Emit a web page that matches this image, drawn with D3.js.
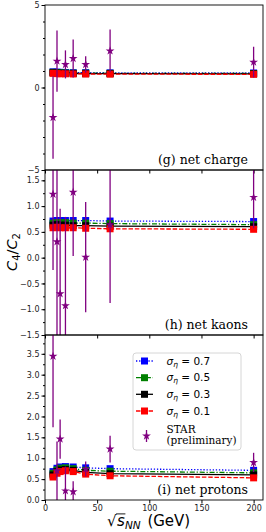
<!DOCTYPE html>
<html>
<head>
<meta charset="utf-8">
<script src="https://cdn.jsdelivr.net/npm/d3@7"></script>
<style>
  body { margin: 0; background: #fff; }
  svg { display: block; }
</style>
</head>
<body>
<div class="canvas"></div>
<script>
// collision energies (GeV)
const energies = [7.7, 11.5, 14.5, 19.6, 27, 39, 62.4, 200];
const sigmaLabels = ['0.7', '0.5', '0.3', '0.1'];

// model C4/C2, net charge
const chargeS07 = [0.95, 0.93, 0.92, 0.91, 0.90, 0.90, 0.89, 0.88];
const chargeS05 = [0.92, 0.90, 0.89, 0.88, 0.87, 0.87, 0.86, 0.85];
const chargeS03 = [0.89, 0.87, 0.86, 0.85, 0.85, 0.84, 0.84, 0.83];
const chargeS01 = [0.86, 0.84, 0.83, 0.83, 0.82, 0.82, 0.81, 0.80];
// STAR preliminary, net charge (no 14.5 point)
const starCharge    = [-1.82, 1.60, null, 1.40, 1.76, 1.40, 2.22, 1.54];
const starChargeErr = [2.50, 1.85, null, 0.85, 1.15, 0.50, 1.30, 0.93];

// model C4/C2, net kaons
const kaonS07 = [0.71, 0.72, 0.72, 0.72, 0.72, 0.72, 0.71, 0.70];
const kaonS05 = [0.67, 0.68, 0.68, 0.68, 0.67, 0.67, 0.66, 0.64];
const kaonS03 = [0.63, 0.64, 0.63, 0.63, 0.62, 0.62, 0.61, 0.60];
const kaonS01 = [0.58, 0.59, 0.58, 0.58, 0.58, 0.57, 0.56, 0.55];
const starKaon    = [1.23, 0.31, -0.70, -0.93, 1.27, 0.01, 0.64, 1.17];
const starKaonErr = [1.47, 2.20, 1.65, 1.72, 1.24, 1.07, 1.52, 0.60];

// model C4/C2, net protons
const protonS07 = [0.68, 0.76, 0.79, 0.80, 0.79, 0.77, 0.75, 0.71];
const protonS05 = [0.64, 0.72, 0.76, 0.77, 0.75, 0.71, 0.69, 0.65];
const protonS03 = [0.60, 0.68, 0.72, 0.73, 0.71, 0.66, 0.63, 0.60];
const protonS01 = [0.55, 0.64, 0.68, 0.70, 0.68, 0.62, 0.58, 0.53];
const starProton    = [3.44, 0.70, 1.46, 0.22, 0.20, 0.74, 1.22, 0.90];
const starProtonErr = [1.70, 0.70, 0.47, 0.58, 0.25, 0.18, 0.32, 0.23];

const xTicks = [0, 50, 100, 150, 200];

const svgWidth = 266;
const svgHeight = 532;
const plotLeft = 45;
const plotRight = 263;
const plotTop = 5;
const panelHeight = 165;

const purple = '#800080';
const seriesStyle = [
  { color: '#0000ff', dash: '1.3,1.8' },
  { color: '#008000', dash: '5,1.8,1.3,1.8' },
  { color: '#000000', dash: null },
  { color: '#ff0000', dash: '4.5,1.8' }
];

const panels = [
  { label: '(g) net charge', domain: [-5, 5], major: [-5, 0, 5], minor: d3.range(-5, 5.01, 1),
    fmt: d3.format('d'), models: [chargeS07, chargeS05, chargeS03, chargeS01], star: starCharge, err: starChargeErr },
  { label: '(h) net kaons', domain: [-1.5, 1.7], major: d3.range(-1.5, 1.51, 0.5), minor: d3.range(-1.5, 1.71, 0.25),
    fmt: d3.format('.1f'), models: [kaonS07, kaonS05, kaonS03, kaonS01], star: starKaon, err: starKaonErr },
  { label: '(i) net protons', domain: [0, 3.95], major: d3.range(0, 3.51, 0.5), minor: d3.range(0, 3.95, 0.25),
    fmt: d3.format('.1f'), models: [protonS07, protonS05, protonS03, protonS01], star: starProton, err: starProtonErr }
];

const svg = d3.select('.canvas').append('svg')
  .attr('width', svgWidth)
  .attr('height', svgHeight);

const x = d3.scaleLinear().domain([0, 209]).range([plotLeft, plotRight]);
const square = d3.symbol(d3.symbolSquare, 49)();
const star = d3.symbol(d3.symbolStar, 24)();

panels.forEach((p, i) => {
  const top = plotTop + i * panelHeight;
  const y = d3.scaleLinear().domain(p.domain).range([top + panelHeight, top]);

  svg.append('clipPath').attr('id', 'clip' + i)
    .append('rect').attr('x', plotLeft).attr('y', top)
    .attr('width', plotRight - plotLeft).attr('height', panelHeight);

  const g = svg.append('g').attr('clip-path', `url(#clip${i})`);

  // model curves
  p.models.forEach((vals, k) => {
    const st = seriesStyle[k];
    const pts = energies.map((e, j) => [e, vals[j]]);
    g.append('path')
      .attr('d', d3.line().x(d => x(d[0])).y(d => y(d[1]))(pts))
      .attr('fill', 'none')
      .attr('stroke', st.color)
      .attr('stroke-width', 1.3)
      .attr('stroke-dasharray', st.dash);
    g.selectAll(null).data(pts).enter().append('path')
      .attr('d', square)
      .attr('transform', d => `translate(${x(d[0])},${y(d[1])})`)
      .attr('fill', st.color);
  });

  // STAR points
  const starPts = energies.map((e, j) => ({ e, v: p.star[j], err: p.err[j] })).filter(d => d.v != null);
  g.selectAll(null).data(starPts).enter().append('line')
    .attr('x1', d => x(d.e)).attr('x2', d => x(d.e))
    .attr('y1', d => y(d.v - d.err)).attr('y2', d => y(d.v + d.err))
    .attr('stroke', purple).attr('stroke-width', 1.3);
  g.selectAll(null).data(starPts).enter().append('path')
    .attr('d', star)
    .attr('transform', d => `translate(${x(d.e)},${y(d.v)})`)
    .attr('fill', purple);

  // axes
  const yAxis = svg.append('g').attr('transform', `translate(${plotLeft},0)`)
    .call(d3.axisLeft(y).tickValues(p.major).tickFormat(p.fmt).tickSize(3.5).tickPadding(2).tickSizeOuter(0));
  svg.append('g').attr('transform', `translate(${plotLeft},0)`)
    .call(d3.axisLeft(y).tickValues(p.minor).tickFormat('').tickSize(2).tickSizeOuter(0))
    .select('.domain').remove();
  const xAxis = svg.append('g').attr('transform', `translate(0,${top + panelHeight})`)
    .call(d3.axisBottom(x).tickValues(xTicks).tickSize(3.5).tickPadding(2).tickSizeOuter(0)
      .tickFormat(i === panels.length - 1 ? d3.format('d') : ''));
  [yAxis, xAxis].forEach(a => {
    a.select('.domain').remove();
    a.attr('font-family', 'DejaVu Sans').attr('font-size', 8);
    a.selectAll('text').attr('fill', '#222');
  });

  // frame
  svg.append('rect')
    .attr('x', plotLeft).attr('y', top)
    .attr('width', plotRight - plotLeft).attr('height', panelHeight)
    .attr('fill', 'none').attr('stroke', '#000').attr('stroke-width', 0.9);

  svg.append('text')
    .attr('x', 248).attr('y', top + 158.5)
    .attr('text-anchor', 'end')
    .attr('font-family', 'DejaVu Serif')
    .attr('font-size', 12.5)
    .text(p.label);
});

// legend in the bottom panel
const legend = svg.append('g');
legend.append('rect')
  .attr('x', 133).attr('y', 353).attr('width', 108).attr('height', 97).attr('rx', 3)
  .attr('fill', 'white').attr('fill-opacity', 0.85)
  .attr('stroke', '#ccc').attr('stroke-width', 0.8);

const rowY = [361, 377.7, 394.3, 411];
sigmaLabels.forEach((s, k) => {
  const st = seriesStyle[k];
  const cy = rowY[k];
  legend.append('line')
    .attr('x1', 136).attr('x2', 153).attr('y1', cy).attr('y2', cy)
    .attr('stroke', st.color).attr('stroke-width', 1.3).attr('stroke-dasharray', st.dash);
  legend.append('path').attr('d', square)
    .attr('transform', `translate(144.5,${cy})`).attr('fill', st.color);
  const t = legend.append('text')
    .attr('x', 166.5).attr('y', cy + 3.5)
    .attr('font-family', 'DejaVu Sans').attr('font-size', 10.5);
  t.append('tspan').attr('font-style', 'italic').text('σ');
  t.append('tspan').attr('font-style', 'italic').attr('font-size', 7.5).attr('dy', 2).text('η');
  t.append('tspan').attr('dy', -2).text(' = ' + s);
});

legend.append('line')
  .attr('x1', 146.5).attr('x2', 146.5).attr('y1', 430).attr('y2', 442)
  .attr('stroke', purple).attr('stroke-width', 1.3);
legend.append('path').attr('d', star)
  .attr('transform', 'translate(146.5,436)').attr('fill', purple);
legend.append('text').attr('x', 166.5).attr('y', 432.5)
  .attr('font-family', 'DejaVu Serif').attr('font-size', 10.5).text('STAR');
legend.append('text').attr('x', 166.5).attr('y', 444)
  .attr('font-family', 'DejaVu Serif').attr('font-size', 10.5).text('(preliminary)');

// y label C4/C2
const yl = svg.append('text')
  .attr('transform', 'translate(17,252) rotate(-90)')
  .attr('text-anchor', 'middle')
  .attr('font-family', 'DejaVu Sans').attr('font-size', 14.5);
yl.append('tspan').attr('font-style', 'italic').text('C');
yl.append('tspan').attr('font-size', 10).attr('dy', 3).text('4');
yl.append('tspan').attr('dy', -3).text('/');
yl.append('tspan').attr('font-style', 'italic').text('C');
yl.append('tspan').attr('font-size', 10).attr('dy', 3).text('2');

// x label sqrt(s_NN) (GeV)
const xl = svg.append('text')
  .attr('x', 107).attr('y', 526)
  .attr('font-family', 'DejaVu Sans').attr('font-size', 15);
xl.append('tspan').text('√');
xl.append('tspan').attr('font-style', 'italic').attr('dx', 0.5).text('s');
xl.append('tspan').attr('font-style', 'italic').attr('font-size', 10.5).attr('dy', 3).text('NN');
xl.append('tspan').attr('dy', -3).attr('dx', 2).text(' (GeV)');
const node = xl.node();
const rad = node.getExtentOfChar(0);
const sChar = node.getExtentOfChar(1);
svg.append('line')
  .attr('x1', rad.x + rad.width - 0.5).attr('x2', sChar.x + sChar.width + 0.5)
  .attr('y1', rad.y + 1.9).attr('y2', rad.y + 1.9)
  .attr('stroke', '#000').attr('stroke-width', 0.9);
</script>
</body>
</html>
